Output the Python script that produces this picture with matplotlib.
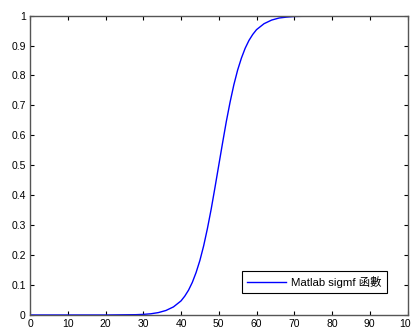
import matplotlib
matplotlib.use('Agg')
import matplotlib.pyplot as plt

plt.rcParams['font.family'] = ['Liberation Sans', 'Noto Sans CJK TC', 'DejaVu Sans']

# values
x_vals = [0, 10, 20, 28, 30, 32, 34, 36, 38, 40, 41, 42, 43, 44, 45, 46, 47, 48, 49,
          50, 51, 52, 53, 54, 55, 56, 57, 58, 59, 60, 62, 64, 66, 68, 70, 80, 90, 100]
y_vals = [0.0, 0.0, 0.0, 0.001, 0.002, 0.004, 0.008, 0.015, 0.027, 0.047, 0.063, 0.083,
          0.109, 0.142, 0.182, 0.231, 0.289, 0.354, 0.426,
          0.5, 0.574, 0.646, 0.711, 0.769, 0.818, 0.858, 0.891, 0.917, 0.937,
          0.953, 0.973, 0.985, 0.992, 0.995, 0.997, 1.0, 1.0, 1.0]
legend_label = 'Matlab sigmf 函數'

fig = plt.figure(figsize=(4.11, 3.29), dpi=100)
ax = fig.add_axes([0.073, 0.0426, 0.9185, 0.910])
ax.plot(x_vals, y_vals, color='#0000ff', lw=1.0, label=legend_label)

ax.set_xlim(0, 100)
ax.set_ylim(0, 1)
ax.set_xticks(range(0, 101, 10))
ax.set_yticks([i / 10 for i in range(11)])
ax.set_yticklabels(['0'] + ['%.1f' % (i / 10) for i in range(1, 10)] + ['1'])
ax.tick_params(direction='in', top=True, right=True, length=3, width=0.8,
               labelsize=7.5, colors='black', pad=3)
for s in ax.spines.values():
    s.set_color('#555555')
    s.set_linewidth(1.0)

leg = ax.legend(loc='lower right', bbox_to_anchor=(0.946, 0.073), borderaxespad=0,
                fontsize=8.2, fancybox=False, edgecolor='black', framealpha=1,
                handlelength=3.4, borderpad=0.45, handletextpad=0.5)
leg.get_frame().set_linewidth(0.8)

fig.savefig('out.png', dpi=100)
